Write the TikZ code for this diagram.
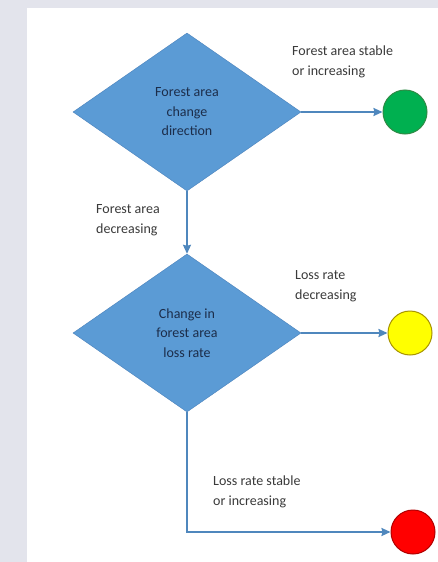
\documentclass[tikz,border=0pt]{standalone}
\usepackage{fontspec}
\setmainfont{Carlito}
\usepackage{tikz}
\usetikzlibrary{arrows.meta,positioning,shapes.geometric}
\definecolor{panelgray}{HTML}{E3E4EC}
\definecolor{boxblue}{HTML}{5B9BD5}
\definecolor{boxedge}{HTML}{4A82BC}
\definecolor{lineblue}{HTML}{4F87BD}
\definecolor{navytext}{HTML}{1C2D4A}
\definecolor{labelgray}{HTML}{3A3A3A}
\definecolor{goGreen}{HTML}{00B050}
\definecolor{goEdge}{HTML}{2E8B45}
\definecolor{waitYellow}{HTML}{FFFF00}
\definecolor{waitEdge}{HTML}{A89400}
\definecolor{stopRed}{HTML}{FF0000}
\definecolor{stopEdge}{HTML}{B00000}

\begin{document}
\begin{tikzpicture}[x=1pt,y=-1pt,
font=\fontsize{14}{19.5}\selectfont,
decision/.style={diamond,draw=boxedge,fill=boxblue,minimum width=228pt,minimum height=158pt,inner sep=0pt,align=center,text=navytext},
light/.style={circle,draw,line width=1pt,minimum size=44pt,inner sep=0pt},
flow/.style={-{Stealth[length=9pt,width=8pt,inset=1pt]},lineblue,line width=1.8pt},
note/.style={align=left,text=labelgray,anchor=west,inner sep=0pt}]
    % page and panel
    \fill[panelgray] (0,0) rectangle (438,562);
    \fill[white] (27,8) rectangle (438,562);

    % decisions
    \node[decision] (dir) at (187,112) {Forest area\\change\\direction};
    \node[decision] (rate) at (187,333) {Change in\\forest area\\loss rate};

    % outcomes
    \node[light,fill=goGreen,draw=goEdge] (green) at (405,112) {};
    \node[light,fill=waitYellow,draw=waitEdge] (yellow) at (410,333) {};
    \node[light,fill=stopRed,draw=stopEdge] (red) at (413,532) {};

    \draw[flow] (dir.east) -- (green.west);
    \draw[flow] (dir.south) -- (rate.north);
    \draw[flow] (rate.east) -- (yellow.west);
    \draw[flow] (rate.south) |- (red.west);

    % branch labels
    \node[note] (stable) at (292,62) {Forest area stable\\or increasing};
    \node[note] (decr) at (96,220) {Forest area\\decreasing};
    \node[note] (slower) at (295,286) {Loss rate\\decreasing};
    \node[note] (faster) at (213,492) {Loss rate stable\\or increasing};
\end{tikzpicture}
\end{document}
